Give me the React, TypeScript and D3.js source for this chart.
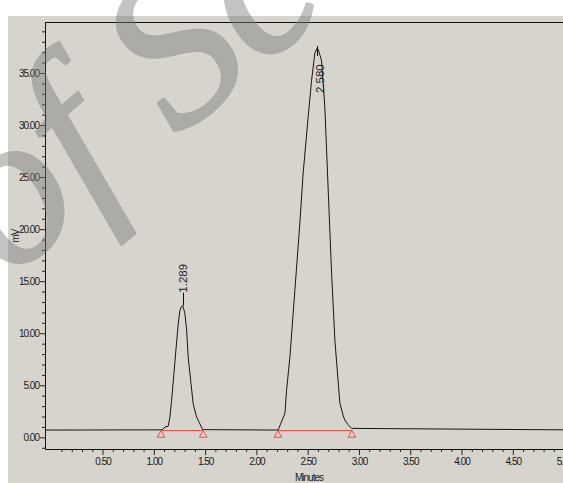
import React, { useRef, useEffect } from 'react';
import * as d3 from 'd3';

// detector trace (minutes, mV)
const traceMinutes = [
  -0.06, 1.082, 1.108, 1.14, 1.157, 1.173, 1.196, 1.218, 1.238, 1.254, 1.271, 1.281,
  1.292, 1.303, 1.32, 1.335, 1.362, 1.384, 1.417, 1.449, 1.476,
  2.212, 2.278, 2.294, 2.327, 2.375, 2.424, 2.456, 2.505, 2.538, 2.57, 2.593, 2.605,
  2.635, 2.667, 2.7, 2.733, 2.765, 2.814, 2.846, 2.862, 2.895, 2.928, 5.3,
];
const traceMv = [
  0.7, 0.72, 0.99, 1.06, 1.95, 3.55, 6.12, 8.68, 10.9, 12.2, 12.6, 12.65,
  12.3, 11.9, 10.3, 7.7, 5.2, 3.2, 1.95, 1.3, 0.74,
  0.7, 2.3, 4.5, 7.74, 14.1, 20.6, 25.4, 30.8, 34.3, 36.9, 37.4, 37.2,
  36.2, 31.8, 23.8, 15.8, 9.35, 3.27, 2.1, 1.66, 1.2, 0.86, 0.7,
];

// integration results
const peakRetention = [1.289, 2.58];
const peakApexMinutes = [1.281, 2.593];
const peakApexMv = [12.65, 37.4];
const peakStartMinutes = [1.071, 2.21];
const peakEndMinutes = [1.481, 2.931];
const baselineMv = 0.7;

const yMajorTicks = [0, 5, 10, 15, 20, 25, 30, 35];
const xMajorTicks = [0.5, 1, 1.5, 2, 2.5, 3, 3.5, 4, 4.5, 5];
const xTitle = 'Minutes';
const yTitle = 'mV';
const watermark = 'of Sc';

function App() {
  const ref = useRef<SVGSVGElement>(null);

  useEffect(() => {
    drawChart();
  }, []);

  function drawChart() {
    const svg = d3.select(ref.current);
    svg.selectAll('*').remove();

    const left = 45, top = 22, bottom = 449, right = 600;
    const font = "'Liberation Sans', Arial, sans-serif";

    const x = d3.scaleLinear().domain([-0.061, 5.35]).range([left, right]);
    const y = d3.scaleLinear().domain([-1.12, 39.9]).range([bottom, top]);

    svg.append('rect')
      .attr('x', 8).attr('y', 16)
      .attr('width', 700).attr('height', 600)
      .attr('fill', '#d7d4cd');

    // y axis: minor every 1 mV, major every 5
    const yMinor = d3.range(-1, 40).filter(v => v % 5 !== 0);
    svg.append('g')
      .attr('transform', `translate(${left},0)`)
      .call(d3.axisLeft(y).tickValues(yMinor).tickSize(3).tickFormat(() => ''))
      .call(g => g.select('.domain').remove());
    svg.append('g')
      .attr('transform', `translate(${left},0)`)
      .call(d3.axisLeft(y).tickValues(yMajorTicks).tickSize(5).tickPadding(1)
        .tickFormat(d3.format('.2f')))
      .call(g => g.select('.domain').remove())
      .call(g => g.selectAll('text')
        .attr('font-family', font).attr('font-size', 10)
        .attr('letter-spacing', -1).attr('fill', '#1a1a1a'));

    // x axis: minor every 0.1 min, major every 0.5
    const xMinor = d3.range(1, 54).filter(v => v % 5 !== 0).map(v => v / 10);
    svg.append('g')
      .attr('transform', `translate(0,${bottom})`)
      .call(d3.axisBottom(x).tickValues(xMinor).tickSize(3).tickFormat(() => ''))
      .call(g => g.select('.domain').remove());
    svg.append('g')
      .attr('transform', `translate(0,${bottom})`)
      .call(d3.axisBottom(x).tickValues(xMajorTicks).tickSize(6).tickPadding(3)
        .tickFormat(d3.format('.2f')))
      .call(g => g.select('.domain').remove())
      .call(g => g.selectAll('text')
        .attr('font-family', font).attr('font-size', 10)
        .attr('letter-spacing', -1).attr('fill', '#1a1a1a'));

    svg.selectAll('.tick line').attr('stroke', '#222');

    // frame
    svg.append('path')
      .attr('d', `M${right},${top + 0.5}H${left + 0.5}V${bottom + 0.5}H${right}`)
      .attr('fill', 'none')
      .attr('stroke', '#111')
      .attr('stroke-width', 1);

    // axis titles
    svg.append('text')
      .attr('x', 309).attr('y', 478)
      .attr('text-anchor', 'middle')
      .attr('dominant-baseline', 'middle')
      .attr('font-family', font).attr('font-size', 10)
      .attr('letter-spacing', -1)
      .attr('fill', '#1a1a1a')
      .text(xTitle);
    svg.append('text')
      .attr('transform', 'translate(16,236) rotate(-90)')
      .attr('text-anchor', 'middle')
      .attr('dominant-baseline', 'middle')
      .attr('font-family', font).attr('font-size', 10)
      .attr('letter-spacing', -1)
      .attr('fill', '#1a1a1a')
      .text(yTitle);

    // trace
    const pts = traceMinutes.map((t, i) => [t, traceMv[i]] as [number, number]);
    svg.append('path')
      .datum(pts)
      .attr('fill', 'none')
      .attr('stroke', '#151515')
      .attr('stroke-width', 1)
      .attr('d', d3.line<[number, number]>()
        .x(d => x(d[0]))
        .y(d => y(d[1])));

    // baselines and markers
    const by = Math.round(y(baselineMv)) + 0.5;
    peakStartMinutes.forEach((s, i) => {
      svg.append('line')
        .attr('x1', x(s)).attr('x2', x(peakEndMinutes[i]))
        .attr('y1', by).attr('y2', by)
        .attr('stroke', '#f24a4a');
    });
    const tri = d3.symbol().type(d3.symbolTriangle).size(26);
    svg.selectAll('.marker')
      .data([...peakStartMinutes, ...peakEndMinutes])
      .enter()
      .append('path')
      .attr('class', 'marker')
      .attr('transform', d => `translate(${x(d)},${by + 4.5})`)
      .attr('d', tri())
      .attr('fill', 'none')
      .attr('stroke', '#f24a4a');

    // retention time labels
    peakRetention.forEach((rt, i) => {
      const ax = x(peakApexMinutes[i]);
      const ay = y(peakApexMv[i]);
      const above = ay - 45 > top;
      const start = above ? ay - 13 : ay + 45;
      svg.append('line')
        .attr('x1', Math.round(ax) + 0.5).attr('x2', Math.round(ax) + 0.5)
        .attr('y1', above ? start : ay - 2)
        .attr('y2', above ? ay : ay + 8)
        .attr('stroke', '#111');
      svg.append('text')
        .attr('transform', `translate(${above ? ax : ax + 3},${start}) rotate(-90)`)
        .attr('dy', '0.35em')
        .attr('font-family', font).attr('font-size', 11.5)
        .attr('fill', '#1c1c2a')
        .text(rt.toFixed(3));
    });

    // watermark over the whole picture (group opacity so the outline doesn't double up)
    svg.append('g')
      .attr('opacity', 0.45)
      .append('text')
      .attr('transform', 'translate(8,280) rotate(-40)')
      .attr('font-family', "'Liberation Serif', 'DejaVu Serif', serif")
      .attr('font-style', 'italic')
      .attr('font-size', 215)
      .attr('fill', '#7a7a7a')
      .attr('stroke', '#7a7a7a')
      .attr('stroke-width', 3)
      .attr('stroke-linejoin', 'round')
      .text(watermark);
  }

  return (
    <div style={{ position: 'fixed', left: 0, top: 0, width: 563, height: 483, overflow: 'hidden' }}>
      <svg ref={ref} width={563} height={483} />
    </div>
  );
}

export default App;
